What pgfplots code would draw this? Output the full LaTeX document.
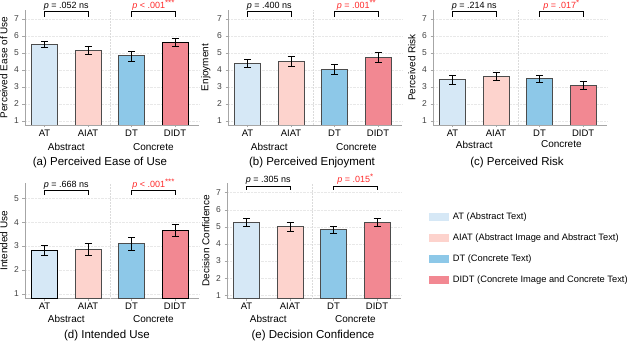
\documentclass[border=0pt]{standalone}
\usepackage{fontspec}
\setmainfont{Liberation Sans}
\usepackage{pgfplots}
\pgfplotsset{compat=1.18}
\usepackage{xcolor}
\definecolor{atcol}{HTML}{D6E8F6}
\definecolor{aiatcol}{HTML}{FDD3CD}
\definecolor{dtcol}{HTML}{8DC8E8}
\definecolor{didtcol}{HTML}{F28892}
\definecolor{sigred}{HTML}{FF2A2A}
\definecolor{ticktext}{HTML}{404040}

\newcommand{\fs}[1]{\fontsize{#1}{#1}\selectfont}
\newcommand{\stars}[1]{\raisebox{2.8pt}{\fs{8}#1}}

\pgfplotsset{
  panel/.style={
    scale only axis,
    width=174pt,
    axis lines*=left,
    axis line style={draw=gray!70, line width=0.6pt, -},
    tick align=outside,
    major tick length=2.5pt,
    tick style={draw=gray!70, line width=0.5pt},
    xtick={1,2,3,4},
    xticklabels={AT,AIAT,DT,DIDT},
    xmin=0.55, xmax=4.55,
    ymajorgrids=true,
    grid style={densely dotted, gray!18, line width=0.5pt},
    extra x ticks={2.5},
    extra x tick labels={},
    extra x tick style={grid=major, major tick length=0pt,
      major grid style={densely dotted, gray!28, line width=0.5pt}},
    /pgf/number format/assume math mode=true,
    yticklabel style={font=\fs{8.5}, text=ticktext},
    xticklabel style={font=\fs{9.5}, text=black, yshift=1pt},
    ylabel style={font=\fs{10}},
    clip mode=individual,
    bar width=26pt,
    error bars/y dir=both,
    error bars/y explicit,
    error bars/error bar style={black, line width=0.6pt},
    error bars/error mark options={rotate=90, mark size=3.5pt, line width=0.6pt},
  },
  bar/.style={ybar, draw=black!70, line width=0.8pt, forget plot},
}

\newcommand{\bracket}[4]{% x1, x2, ylow, yhigh
  \draw[black, line width=0.7pt] (axis cs:#1,#3) |- (axis cs:#2,#4) -- (axis cs:#2,#3);}

\begin{document}
\begin{tikzpicture}
\useasboundingbox (0,0) rectangle (634pt,-344pt);

% (a) Perceived Ease of Use
\begin{axis}[panel, height=115pt, at={(25pt,-125pt)}, anchor=south west,
  ymin=0.765, ymax=7.53, ytick={1,...,7}, ylabel={Perceived Ease of Use}]
\addplot[bar, fill=atcol] coordinates {(1,5.50) +- (0,0.18)};
\addplot[bar, fill=aiatcol] coordinates {(2,5.17) +- (0,0.25)};
\addplot[bar, fill=dtcol] coordinates {(3,4.83) +- (0,0.29)};
\addplot[bar, fill=didtcol, draw=black] coordinates {(4,5.62) +- (0,0.23)};
\bracket{1}{2}{7.14}{7.43}
\bracket{3}{4}{7.14}{7.43}
\node[anchor=base, font=\fs{9}] at (axis cs:1.5,7.43) [yshift=3.5pt] {\textit{p} = .052 ns};
\node[anchor=base, font=\fs{9}, text=sigred] at (axis cs:3.5,7.43) [yshift=3.5pt] {\textit{p} < .001\stars{***}};
\node[font=\fs{10}] at (axis cs:1.5,0.765) [yshift=-22pt] {Abstract};
\node[font=\fs{10}] at (axis cs:3.5,0.765) [yshift=-22pt] {Concrete};
\node[font=\fs{11.5}] at (rel axis cs:0.5,0) [xshift=-12pt, yshift=-38pt] {(a) Perceived Ease of Use};
\end{axis}

% (b) Perceived Enjoyment
\begin{axis}[panel, height=115pt, at={(228pt,-125pt)}, anchor=south west,
  ymin=0.765, ymax=7.53, ytick={1,...,7}, ylabel={Enjoyment}]
\addplot[bar, fill=atcol] coordinates {(1,4.38) +- (0,0.24)};
\addplot[bar, fill=aiatcol] coordinates {(2,4.52) +- (0,0.28)};
\addplot[bar, fill=dtcol] coordinates {(3,4.03) +- (0,0.30)};
\addplot[bar, fill=didtcol] coordinates {(4,4.74) +- (0,0.30)};
\bracket{1}{2}{7.14}{7.43}
\bracket{3}{4}{7.14}{7.43}
\node[anchor=base, font=\fs{9}] at (axis cs:1.5,7.43) [yshift=3.5pt] {\textit{p} = .400 ns};
\node[anchor=base, font=\fs{9}, text=sigred] at (axis cs:3.5,7.43) [yshift=3.5pt] {\textit{p} = .001\stars{**}};
\node[font=\fs{10}] at (axis cs:1.5,0.765) [yshift=-22pt] {Abstract};
\node[font=\fs{10}] at (axis cs:3.5,0.765) [yshift=-22pt] {Concrete};
\node[font=\fs{11.5}] at (rel axis cs:0.5,0) [xshift=-3pt, yshift=-38pt] {(b) Perceived Enjoyment};
\end{axis}

% (c) Perceived Risk
\begin{axis}[panel, height=115pt, at={(433pt,-125pt)}, anchor=south west,
  ymin=0.765, ymax=7.53, ytick={1,...,7}, ylabel={Perceived Risk}]
\addplot[bar, fill=atcol] coordinates {(1,3.44) +- (0,0.26)};
\addplot[bar, fill=aiatcol] coordinates {(2,3.61) +- (0,0.24)};
\addplot[bar, fill=dtcol] coordinates {(3,3.48) +- (0,0.20)};
\addplot[bar, fill=didtcol] coordinates {(4,3.08) +- (0,0.24)};
\bracket{1}{2}{7.14}{7.43}
\bracket{3}{4}{7.14}{7.43}
\node[anchor=base, font=\fs{9}] at (axis cs:1.5,7.43) [yshift=3.5pt] {\textit{p} = .214 ns};
\node[anchor=base, font=\fs{9}, text=sigred] at (axis cs:3.5,7.43) [yshift=3.5pt] {\textit{p} = .017\stars{*}};
\node[font=\fs{10}] at (axis cs:1.5,0.765) [yshift=-19.5pt] {Abstract};
\node[font=\fs{10}] at (axis cs:3.5,0.765) [yshift=-19.5pt] {Concrete};
\node[font=\fs{11.5}] at (rel axis cs:0.5,0) [xshift=-3pt, yshift=-38pt] {(c) Perceived Risk};
\end{axis}

% (d) Intended Use
\begin{axis}[panel, height=115pt, at={(25pt,-298.3pt)}, anchor=south west,
  ymin=0.81, ymax=5.63, ytick={1,...,5}, ylabel={Intended Use}]
\addplot[bar, fill=atcol, draw=black] coordinates {(1,2.82) +- (0,0.22)};
\addplot[bar, fill=aiatcol] coordinates {(2,2.87) +- (0,0.24)};
\addplot[bar, fill=dtcol] coordinates {(3,3.10) +- (0,0.26)};
\addplot[bar, fill=didtcol, draw=black] coordinates {(4,3.66) +- (0,0.24)};
\bracket{1}{2}{5.14}{5.32}
\bracket{3}{4}{5.14}{5.32}
\node[anchor=base, font=\fs{9}] at (axis cs:1.5,5.32) [yshift=3.5pt] {\textit{p} = .668 ns};
\node[anchor=base, font=\fs{9}, text=sigred] at (axis cs:3.5,5.32) [yshift=3.5pt] {\textit{p} < .001\stars{***}};
\node[font=\fs{10}] at (axis cs:1.5,0.81) [yshift=-21pt] {Abstract};
\node[font=\fs{10}] at (axis cs:3.5,0.81) [yshift=-21pt] {Concrete};
\node[font=\fs{11.5}] at (rel axis cs:0.5,0) [xshift=-5pt, yshift=-37pt] {(d) Intended Use};
\end{axis}

% (e) Decision Confidence
\begin{axis}[panel, height=115pt, at={(227pt,-298.3pt)}, anchor=south west,
  ymin=0.82, ymax=7.55, ytick={1,...,7}, ylabel={Decision Confidence},
  legend style={draw=none, fill=none, at={(1.157,0.75)}, anchor=north west,
    font=\fs{9.3}, row sep=12pt, inner sep=0pt,
    nodes={inner sep=0pt, text height=7pt, text depth=2pt}},
  legend cell align=left]
\addplot[bar, fill=atcol] coordinates {(1,5.25) +- (0,0.23)};
\addplot[bar, fill=aiatcol] coordinates {(2,5.01) +- (0,0.26)};
\addplot[bar, fill=dtcol] coordinates {(3,4.84) +- (0,0.22)};
\addplot[bar, fill=didtcol] coordinates {(4,5.27) +- (0,0.23)};
\bracket{1}{2}{7.16}{7.39}
\bracket{3}{4}{7.16}{7.39}
\node[anchor=base, font=\fs{9}] at (axis cs:1.5,7.39) [yshift=3.5pt] {\textit{p} = .305 ns};
\node[anchor=base, font=\fs{9}, text=sigred] at (axis cs:3.5,7.39) [yshift=3.5pt] {\textit{p} = .015\stars{*}};
\node[font=\fs{10}] at (axis cs:1.5,0.82) [yshift=-21pt] {Abstract};
\node[font=\fs{10}] at (axis cs:3.5,0.82) [yshift=-21pt] {Concrete};
\node[font=\fs{11.5}] at (rel axis cs:0.5,0) [xshift=-1pt, yshift=-37pt] {(e) Decision Confidence};
\addlegendimage{legend image code/.code={\fill[atcol] (0pt,-3.5pt) rectangle (19pt,3.5pt);}}
\addlegendentry{\hspace{5pt}AT (Abstract Text)}
\addlegendimage{legend image code/.code={\fill[aiatcol] (0pt,-3.5pt) rectangle (19pt,3.5pt);}}
\addlegendentry{\hspace{5pt}AIAT (Abstract Image and Abstract Text)}
\addlegendimage{legend image code/.code={\fill[dtcol] (0pt,-3.5pt) rectangle (19pt,3.5pt);}}
\addlegendentry{\hspace{5pt}DT (Concrete Text)}
\addlegendimage{legend image code/.code={\fill[didtcol] (0pt,-3.5pt) rectangle (19pt,3.5pt);}}
\addlegendentry{\hspace{5pt}DIDT (Concrete Image and Concrete Text)}
\end{axis}
\end{tikzpicture}
\end{document}
